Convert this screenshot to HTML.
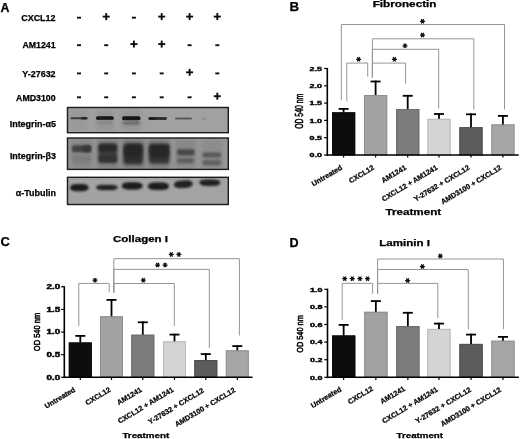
<!DOCTYPE html><html><head><meta charset="utf-8"><style>html,body{margin:0;padding:0;background:#fff;width:520px;height:439px;overflow:hidden}svg{display:block}text{stroke:#000;stroke-width:0.25px;paint-order:stroke}</style></head><body>
<svg width="520" height="439" viewBox="0 0 520 439" font-family='"Liberation Sans", sans-serif'>
<rect x="0" y="0" width="520" height="439" fill="#fff" />
<defs><filter id="sb" x="-50%" y="-50%" width="200%" height="200%"><feGaussianBlur stdDeviation="0.35"/></filter><filter id="gb" x="0" y="0" width="520" height="439" filterUnits="userSpaceOnUse"><feGaussianBlur stdDeviation="0.35"/></filter></defs>
<g filter="url(#gb)">
<text x="0.6" y="11.9" font-size="12.4" font-weight="bold" text-anchor="start" fill="#000" >A</text>
<text x="289.4" y="11.3" font-size="13.3" font-weight="bold" text-anchor="start" fill="#000" >B</text>
<text x="0.4" y="246.4" font-size="13.0" font-weight="bold" text-anchor="start" fill="#000" >C</text>
<text x="289.4" y="246.7" font-size="12.6" font-weight="bold" text-anchor="start" fill="#000" >D</text>
<text x="55.6" y="21.0" font-size="8.3" font-weight="bold" text-anchor="end" fill="#000" textLength="34.4" lengthAdjust="spacingAndGlyphs" >CXCL12</text>
<rect x="77.0" y="16.75" width="4.0" height="1.9" fill="#111" />
<rect x="102.7" y="15.649999999999999" width="7.0" height="1.9" fill="#111" />
<rect x="105.25" y="13.099999999999998" width="1.9" height="7.0" fill="#111" />
<rect x="131.9" y="16.75" width="4.0" height="1.9" fill="#111" />
<rect x="158.2" y="15.649999999999999" width="7.0" height="1.9" fill="#111" />
<rect x="160.75" y="13.099999999999998" width="1.9" height="7.0" fill="#111" />
<rect x="186.1" y="15.649999999999999" width="7.0" height="1.9" fill="#111" />
<rect x="188.65" y="13.099999999999998" width="1.9" height="7.0" fill="#111" />
<rect x="213.8" y="15.649999999999999" width="7.0" height="1.9" fill="#111" />
<rect x="216.35000000000002" y="13.099999999999998" width="1.9" height="7.0" fill="#111" />
<text x="55.6" y="48.4" font-size="8.3" font-weight="bold" text-anchor="end" fill="#000" textLength="33.2" lengthAdjust="spacingAndGlyphs" >AM1241</text>
<rect x="77.0" y="44.25" width="4.0" height="1.9" fill="#111" />
<rect x="104.2" y="44.25" width="4.0" height="1.9" fill="#111" />
<rect x="130.4" y="43.15" width="7.0" height="1.9" fill="#111" />
<rect x="132.95000000000002" y="40.6" width="1.9" height="7.0" fill="#111" />
<rect x="158.2" y="43.15" width="7.0" height="1.9" fill="#111" />
<rect x="160.75" y="40.6" width="1.9" height="7.0" fill="#111" />
<rect x="187.6" y="44.25" width="4.0" height="1.9" fill="#111" />
<rect x="215.3" y="44.25" width="4.0" height="1.9" fill="#111" />
<text x="55.6" y="76.8" font-size="8.3" font-weight="bold" text-anchor="end" fill="#000" textLength="33.3" lengthAdjust="spacingAndGlyphs" >Y-27632</text>
<rect x="77.0" y="72.45" width="4.0" height="1.9" fill="#111" />
<rect x="104.2" y="72.45" width="4.0" height="1.9" fill="#111" />
<rect x="131.9" y="72.45" width="4.0" height="1.9" fill="#111" />
<rect x="159.7" y="72.45" width="4.0" height="1.9" fill="#111" />
<rect x="186.1" y="71.35000000000001" width="7.0" height="1.9" fill="#111" />
<rect x="188.65" y="68.80000000000001" width="1.9" height="7.0" fill="#111" />
<rect x="215.3" y="72.45" width="4.0" height="1.9" fill="#111" />
<text x="55.6" y="100.9" font-size="8.3" font-weight="bold" text-anchor="end" fill="#000" textLength="39.5" lengthAdjust="spacingAndGlyphs" >AMD3100</text>
<rect x="77.0" y="96.35" width="4.0" height="1.9" fill="#111" />
<rect x="104.2" y="96.35" width="4.0" height="1.9" fill="#111" />
<rect x="131.9" y="96.35" width="4.0" height="1.9" fill="#111" />
<rect x="159.7" y="96.35" width="4.0" height="1.9" fill="#111" />
<rect x="187.6" y="96.35" width="4.0" height="1.9" fill="#111" />
<rect x="213.8" y="95.25" width="7.0" height="1.9" fill="#111" />
<rect x="216.35000000000002" y="92.7" width="1.9" height="7.0" fill="#111" />
<text x="56.0" y="126.6" font-size="8.3" font-weight="bold" text-anchor="end" fill="#000" textLength="46.3" lengthAdjust="spacingAndGlyphs" >Integrin-&#945;5</text>
<text x="56.0" y="158.9" font-size="8.3" font-weight="bold" text-anchor="end" fill="#000" textLength="46.1" lengthAdjust="spacingAndGlyphs" >Integrin-&#946;3</text>
<text x="56.0" y="195.6" font-size="8.3" font-weight="bold" text-anchor="end" fill="#000" textLength="40.3" lengthAdjust="spacingAndGlyphs" >&#945;-Tubulin</text>
<defs><filter id="f05" x="-30%" y="-200%" width="160%" height="500%"><feGaussianBlur stdDeviation="0.6"/></filter><filter id="f1" x="-30%" y="-200%" width="160%" height="500%"><feGaussianBlur stdDeviation="1.0"/></filter><filter id="f15" x="-30%" y="-100%" width="160%" height="300%"><feGaussianBlur stdDeviation="1.5"/></filter><filter id="f2" x="-30%" y="-100%" width="160%" height="300%"><feGaussianBlur stdDeviation="2.2"/></filter><filter id="f1b" x="-10%" y="-30%" width="120%" height="160%"><feGaussianBlur stdDeviation="0.8"/></filter><clipPath id="c1"><rect x="68" y="108" width="160" height="24.5"/></clipPath><clipPath id="c2"><rect x="68" y="138.5" width="160" height="30.5"/></clipPath><clipPath id="c3"><rect x="68" y="177.5" width="160" height="26.5"/></clipPath></defs>
<rect x="67.5" y="107.5" width="160.8" height="25.19999999999999" fill="#a1a1a1" />
<rect x="67.5" y="138.0" width="160.8" height="31.400000000000006" fill="#979797" />
<rect x="67.5" y="177.3" width="160.8" height="27.19999999999999" fill="#a3a3a3" />
<g clip-path="url(#c1)">
<rect x="69.5" y="110" width="18.50" height="21.00" rx="2" fill="#999999" filter="url(#f2)"/>
<rect x="95.5" y="110" width="19.00" height="21.00" rx="2" fill="#959595" filter="url(#f2)"/>
<rect x="121" y="110" width="20.00" height="21.00" rx="2" fill="#959595" filter="url(#f2)"/>
<rect x="70.5" y="117.3" width="16.50" height="2.00" rx="1.0" fill="#3c3c3c" filter="url(#f05)"/>
<rect x="81" y="117.0" width="6.50" height="2.60" rx="1.2999999999999972" fill="#262626" filter="url(#f05)"/>
<rect x="96" y="116.2" width="17.80" height="3.70" rx="1.8500000000000014" fill="#141414" filter="url(#f05)"/>
<rect x="97" y="120.5" width="16.00" height="4.00" rx="2.0" fill="#888888" filter="url(#f1)"/>
<rect x="122" y="116.2" width="18.50" height="4.10" rx="2.049999999999997" fill="#141414" filter="url(#f05)"/>
<rect x="122.5" y="121.6" width="17.50" height="2.80" rx="1.4000000000000057" fill="#666666" filter="url(#f1)"/>
<rect x="148.5" y="117.0" width="18.50" height="2.90" rx="1.4500000000000028" fill="#303030" filter="url(#f05)"/>
<rect x="148.5" y="116.9" width="7.50" height="3.10" rx="1.5499999999999972" fill="#222222" filter="url(#f05)"/>
<rect x="175" y="117.6" width="17.00" height="2.00" rx="1.0" fill="#5a5a5a" filter="url(#f05)"/>
<rect x="201.8" y="118.0" width="4.20" height="1.50" rx="0.75" fill="#8a8a8a" filter="url(#f05)"/>
</g>
<g clip-path="url(#c2)">
<rect x="70" y="139" width="23.00" height="30.00" rx="3" fill="#878787" filter="url(#f2)"/>
<rect x="97" y="139" width="22.00" height="30.00" rx="3" fill="#7e7e7e" filter="url(#f2)"/>
<rect x="122" y="139" width="23.00" height="30.00" rx="3" fill="#787878" filter="url(#f2)"/>
<rect x="148" y="139" width="22.00" height="30.00" rx="3" fill="#7a7a7a" filter="url(#f2)"/>
<rect x="175" y="139" width="21.00" height="30.00" rx="3" fill="#888888" filter="url(#f2)"/>
<rect x="201" y="139" width="22.00" height="30.00" rx="3" fill="#8c8c8c" filter="url(#f2)"/>
<rect x="72" y="145.3" width="19.00" height="6.90" rx="2" fill="#424242" filter="url(#f1)"/>
<rect x="83" y="145.5" width="8.00" height="6.50" rx="2" fill="#383838" filter="url(#f1)"/>
<rect x="72.5" y="155.5" width="18.00" height="6.50" rx="3" fill="#7a7a7a" filter="url(#f15)"/>
<rect x="98.5" y="143.5" width="18.50" height="19.50" rx="3" fill="#3a3a3a" filter="url(#f15)"/>
<rect x="99" y="144.5" width="17.50" height="7.00" rx="2" fill="#2c2c2c" filter="url(#f1)"/>
<rect x="99" y="156" width="17.50" height="6.00" rx="2" fill="#303030" filter="url(#f1)"/>
<rect x="123.6" y="143.5" width="19.20" height="20.80" rx="3" fill="#2e2e2e" filter="url(#f15)"/>
<rect x="124.5" y="145" width="17.50" height="12.00" rx="3" fill="#262626" filter="url(#f15)"/>
<rect x="149.0" y="143.7" width="20.40" height="19.80" rx="3" fill="#333333" filter="url(#f15)"/>
<rect x="149.6" y="145" width="19.20" height="12.00" rx="3" fill="#262626" filter="url(#f15)"/>
<rect x="177" y="149.3" width="17.50" height="6.30" rx="2" fill="#484848" filter="url(#f1)"/>
<rect x="177" y="158.0" width="17.00" height="5.20" rx="2" fill="#5e5e5e" filter="url(#f1)"/>
<rect x="202.5" y="152.5" width="18.50" height="5.00" rx="2" fill="#585858" filter="url(#f1)"/>
<rect x="202.5" y="160" width="18.50" height="5.50" rx="2" fill="#626262" filter="url(#f1)"/>
</g>
<g clip-path="url(#c3)" filter="url(#f1b)">
<rect x="70.00" y="183.90" width="18.60" height="7.30" rx="5.95" ry="3.65" fill="#1c1c1c" transform="rotate(0 79.30 187.55)"/>
<rect x="95.90" y="184.70" width="21.80" height="5.60" rx="6.98" ry="2.80" fill="#202020" transform="rotate(0 106.80 187.50)"/>
<rect x="121.70" y="182.30" width="21.00" height="7.20" rx="6.72" ry="3.60" fill="#1c1c1c" transform="rotate(0 132.20 185.90)"/>
<rect x="147.80" y="182.40" width="21.20" height="7.70" rx="6.78" ry="3.85" fill="#1c1c1c" transform="rotate(0 158.40 186.25)"/>
<rect x="173.80" y="180.60" width="19.00" height="7.30" rx="6.08" ry="3.65" fill="#202020" transform="rotate(-4 183.30 184.25)"/>
<rect x="199.30" y="179.40" width="21.00" height="6.60" rx="6.72" ry="3.30" fill="#222222" transform="rotate(0 209.80 182.70)"/>
</g>
<rect x="67.5" y="107.5" width="160.8" height="25.19999999999999" fill="none" stroke="#1a1a1a" stroke-width="1.4"/>
<rect x="67.5" y="138.0" width="160.8" height="31.400000000000006" fill="none" stroke="#1a1a1a" stroke-width="1.4"/>
<rect x="67.5" y="177.3" width="160.8" height="27.19999999999999" fill="none" stroke="#1a1a1a" stroke-width="1.4"/>
<rect x="332.0" y="112.3" width="23.2" height="42.7" fill="#0a0a0a" />
<rect x="332.50" y="112.80" width="22.20" height="42.20" fill="none" stroke="#080808" stroke-width="1"/>
<line x1="343.6" y1="112.3" x2="343.6" y2="108.0" stroke="#000" stroke-width="1.8"/>
<line x1="338.6" y1="108.9" x2="348.6" y2="108.9" stroke="#000" stroke-width="1.8"/>
<line x1="343.6" y1="155.0" x2="343.6" y2="157.6" stroke="#000" stroke-width="1.2"/>
<rect x="364.0" y="95.0" width="23.2" height="60.0" fill="#a2a2a2" />
<rect x="364.50" y="95.50" width="22.20" height="59.50" fill="none" stroke="#8e8e8e" stroke-width="1"/>
<line x1="375.6" y1="95.0" x2="375.6" y2="80.6" stroke="#000" stroke-width="1.8"/>
<line x1="370.6" y1="81.5" x2="380.6" y2="81.5" stroke="#000" stroke-width="1.8"/>
<line x1="375.6" y1="155.0" x2="375.6" y2="157.6" stroke="#000" stroke-width="1.2"/>
<rect x="396.1" y="109.0" width="23.2" height="46.0" fill="#7b7b7b" />
<rect x="396.60" y="109.50" width="22.20" height="45.50" fill="none" stroke="#6c6c6c" stroke-width="1"/>
<line x1="407.70000000000005" y1="109.0" x2="407.70000000000005" y2="94.9" stroke="#000" stroke-width="1.8"/>
<line x1="402.70000000000005" y1="95.80000000000001" x2="412.70000000000005" y2="95.80000000000001" stroke="#000" stroke-width="1.8"/>
<line x1="407.70000000000005" y1="155.0" x2="407.70000000000005" y2="157.6" stroke="#000" stroke-width="1.2"/>
<rect x="427.4" y="118.8" width="23.2" height="36.2" fill="#d4d4d4" />
<rect x="427.90" y="119.30" width="22.20" height="35.70" fill="none" stroke="#bababa" stroke-width="1"/>
<line x1="439.0" y1="118.8" x2="439.0" y2="113.1" stroke="#000" stroke-width="1.8"/>
<line x1="434.0" y1="114.0" x2="444.0" y2="114.0" stroke="#000" stroke-width="1.8"/>
<line x1="439.0" y1="155.0" x2="439.0" y2="157.6" stroke="#000" stroke-width="1.2"/>
<rect x="459.4" y="127.2" width="23.2" height="27.799999999999997" fill="#5c5c5c" />
<rect x="459.90" y="127.70" width="22.20" height="27.30" fill="none" stroke="#505050" stroke-width="1"/>
<line x1="471.0" y1="127.2" x2="471.0" y2="113.4" stroke="#000" stroke-width="1.8"/>
<line x1="466.0" y1="114.30000000000001" x2="476.0" y2="114.30000000000001" stroke="#000" stroke-width="1.8"/>
<line x1="471.0" y1="155.0" x2="471.0" y2="157.6" stroke="#000" stroke-width="1.2"/>
<rect x="491.3" y="124.4" width="23.2" height="30.599999999999994" fill="#a6a6a6" />
<rect x="491.80" y="124.90" width="22.20" height="30.10" fill="none" stroke="#929292" stroke-width="1"/>
<line x1="502.90000000000003" y1="124.4" x2="502.90000000000003" y2="115.0" stroke="#000" stroke-width="1.8"/>
<line x1="497.90000000000003" y1="115.9" x2="507.90000000000003" y2="115.9" stroke="#000" stroke-width="1.8"/>
<line x1="502.90000000000003" y1="155.0" x2="502.90000000000003" y2="157.6" stroke="#000" stroke-width="1.2"/>
<line x1="327.3" y1="67.9" x2="327.3" y2="155.8" stroke="#000" stroke-width="1.6"/>
<line x1="326.5" y1="155.0" x2="518.7" y2="155.0" stroke="#000" stroke-width="1.6"/>
<line x1="324.1" y1="155.0" x2="327.3" y2="155.0" stroke="#000" stroke-width="1.2"/>
<text x="322.0" y="157.2" font-size="6.2" font-weight="bold" text-anchor="end" fill="#000" textLength="12.4" lengthAdjust="spacingAndGlyphs" style="stroke-width:0.4px">0.0</text>
<line x1="324.1" y1="137.7" x2="327.3" y2="137.7" stroke="#000" stroke-width="1.2"/>
<text x="322.0" y="139.89999999999998" font-size="6.2" font-weight="bold" text-anchor="end" fill="#000" textLength="12.4" lengthAdjust="spacingAndGlyphs" style="stroke-width:0.4px">0.5</text>
<line x1="324.1" y1="120.4" x2="327.3" y2="120.4" stroke="#000" stroke-width="1.2"/>
<text x="322.0" y="122.60000000000001" font-size="6.2" font-weight="bold" text-anchor="end" fill="#000" textLength="12.4" lengthAdjust="spacingAndGlyphs" style="stroke-width:0.4px">1.0</text>
<line x1="324.1" y1="103.1" x2="327.3" y2="103.1" stroke="#000" stroke-width="1.2"/>
<text x="322.0" y="105.3" font-size="6.2" font-weight="bold" text-anchor="end" fill="#000" textLength="12.4" lengthAdjust="spacingAndGlyphs" style="stroke-width:0.4px">1.5</text>
<line x1="324.1" y1="85.8" x2="327.3" y2="85.8" stroke="#000" stroke-width="1.2"/>
<text x="322.0" y="88.0" font-size="6.2" font-weight="bold" text-anchor="end" fill="#000" textLength="12.4" lengthAdjust="spacingAndGlyphs" style="stroke-width:0.4px">2.0</text>
<line x1="324.1" y1="68.5" x2="327.3" y2="68.5" stroke="#000" stroke-width="1.2"/>
<text x="322.0" y="70.7" font-size="6.2" font-weight="bold" text-anchor="end" fill="#000" textLength="12.4" lengthAdjust="spacingAndGlyphs" style="stroke-width:0.4px">2.5</text>
<text transform="translate(303.3,111.3) rotate(-90)" font-size="10.0" font-weight="normal" text-anchor="middle" style="stroke-width:0.55px" textLength="35.0" lengthAdjust="spacingAndGlyphs">OD 540 nm</text>
<text transform="translate(342.80,169.00) scale(1,1) rotate(-31)" font-size="7.3" font-weight="bold" text-anchor="end">Untreated</text>
<text transform="translate(374.80,169.00) scale(1,1) rotate(-31)" font-size="7.3" font-weight="bold" text-anchor="end">CXCL12</text>
<text transform="translate(406.90,169.00) scale(1,1) rotate(-31)" font-size="7.3" font-weight="bold" text-anchor="end">AM1241</text>
<text transform="translate(438.20,169.00) scale(1,1) rotate(-31)" font-size="7.3" font-weight="bold" text-anchor="end">CXCL12 + AM1241</text>
<text transform="translate(470.20,169.00) scale(1,1) rotate(-31)" font-size="7.3" font-weight="bold" text-anchor="end">Y-27632 + CXCL12</text>
<text transform="translate(502.10,169.00) scale(1,1) rotate(-31)" font-size="7.3" font-weight="bold" text-anchor="end">AMD3100 + CXCL12</text>
<text x="385.5" y="215.2" font-size="8.6" font-weight="bold" text-anchor="start" fill="#000" textLength="55.7" lengthAdjust="spacingAndGlyphs" >Treatment</text>
<text x="372.7" y="6.5" font-size="8.4" font-weight="bold" text-anchor="start" fill="#000" textLength="63.8" lengthAdjust="spacingAndGlyphs" >Fibronectin</text>
<path d="M346.8,101.4V63.1H367.7V76.6" stroke="#959595" stroke-width="1" fill="none"/>
<path d="M356.10,59.30L361.10,59.30M357.35,57.13L359.85,61.47M359.85,57.13L357.35,61.47" stroke="#111" stroke-width="1.25" fill="none" filter="url(#sb)"/>
<path d="M372.4,77.5V63.1H405.6V83.6" stroke="#959595" stroke-width="1" fill="none"/>
<path d="M391.90,59.30L396.90,59.30M393.15,57.13L395.65,61.47M395.65,57.13L393.15,61.47" stroke="#111" stroke-width="1.25" fill="none" filter="url(#sb)"/>
<path d="M372.4,77.5V49.3H438.7V108.6" stroke="#959595" stroke-width="1" fill="none"/>
<path d="M402.50,45.80L407.50,45.80M403.75,43.63L406.25,47.97M406.25,43.63L403.75,47.97" stroke="#111" stroke-width="1.25" fill="none" filter="url(#sb)"/>
<path d="M372.4,77.5V38.8H473.8V109.5" stroke="#959595" stroke-width="1" fill="none"/>
<path d="M420.00,35.00L425.00,35.00M421.25,32.83L423.75,37.17M423.75,32.83L421.25,37.17" stroke="#111" stroke-width="1.25" fill="none" filter="url(#sb)"/>
<path d="M341.3,100.3V24.5H504.5V109.5" stroke="#959595" stroke-width="1" fill="none"/>
<path d="M420.00,21.30L425.00,21.30M421.25,19.13L423.75,23.47M423.75,19.13L421.25,23.47" stroke="#111" stroke-width="1.25" fill="none" filter="url(#sb)"/>
<rect x="68.8" y="342.5" width="23.0" height="34.80000000000001" fill="#0a0a0a" />
<rect x="69.30" y="343.00" width="22.00" height="34.30" fill="none" stroke="#080808" stroke-width="1"/>
<line x1="80.3" y1="342.5" x2="80.3" y2="335.0" stroke="#000" stroke-width="1.8"/>
<line x1="75.3" y1="335.9" x2="85.3" y2="335.9" stroke="#000" stroke-width="1.8"/>
<line x1="80.3" y1="377.3" x2="80.3" y2="379.90000000000003" stroke="#000" stroke-width="1.2"/>
<rect x="100.0" y="316.3" width="23.0" height="61.0" fill="#a2a2a2" />
<rect x="100.50" y="316.80" width="22.00" height="60.50" fill="none" stroke="#8e8e8e" stroke-width="1"/>
<line x1="111.5" y1="316.3" x2="111.5" y2="299.0" stroke="#000" stroke-width="1.8"/>
<line x1="106.5" y1="299.9" x2="116.5" y2="299.9" stroke="#000" stroke-width="1.8"/>
<line x1="111.5" y1="377.3" x2="111.5" y2="379.90000000000003" stroke="#000" stroke-width="1.2"/>
<rect x="131.3" y="334.7" width="23.0" height="42.60000000000002" fill="#7b7b7b" />
<rect x="131.80" y="335.20" width="22.00" height="42.10" fill="none" stroke="#6c6c6c" stroke-width="1"/>
<line x1="142.8" y1="334.7" x2="142.8" y2="321.4" stroke="#000" stroke-width="1.8"/>
<line x1="137.8" y1="322.29999999999995" x2="147.8" y2="322.29999999999995" stroke="#000" stroke-width="1.8"/>
<line x1="142.8" y1="377.3" x2="142.8" y2="379.90000000000003" stroke="#000" stroke-width="1.2"/>
<rect x="163.0" y="341.3" width="23.0" height="36.0" fill="#d4d4d4" />
<rect x="163.50" y="341.80" width="22.00" height="35.50" fill="none" stroke="#bababa" stroke-width="1"/>
<line x1="174.5" y1="341.3" x2="174.5" y2="333.7" stroke="#000" stroke-width="1.8"/>
<line x1="169.5" y1="334.59999999999997" x2="179.5" y2="334.59999999999997" stroke="#000" stroke-width="1.8"/>
<line x1="174.5" y1="377.3" x2="174.5" y2="379.90000000000003" stroke="#000" stroke-width="1.2"/>
<rect x="194.3" y="360.0" width="23.0" height="17.30000000000001" fill="#5c5c5c" />
<rect x="194.80" y="360.50" width="22.00" height="16.80" fill="none" stroke="#505050" stroke-width="1"/>
<line x1="205.8" y1="360.0" x2="205.8" y2="353.2" stroke="#000" stroke-width="1.8"/>
<line x1="200.8" y1="354.09999999999997" x2="210.8" y2="354.09999999999997" stroke="#000" stroke-width="1.8"/>
<line x1="205.8" y1="377.3" x2="205.8" y2="379.90000000000003" stroke="#000" stroke-width="1.2"/>
<rect x="225.8" y="350.3" width="23.0" height="27.0" fill="#a6a6a6" />
<rect x="226.30" y="350.80" width="22.00" height="26.50" fill="none" stroke="#929292" stroke-width="1"/>
<line x1="237.3" y1="350.3" x2="237.3" y2="345.2" stroke="#000" stroke-width="1.8"/>
<line x1="232.3" y1="346.09999999999997" x2="242.3" y2="346.09999999999997" stroke="#000" stroke-width="1.8"/>
<line x1="237.3" y1="377.3" x2="237.3" y2="379.90000000000003" stroke="#000" stroke-width="1.2"/>
<line x1="64.3" y1="286.2" x2="64.3" y2="378.1" stroke="#000" stroke-width="1.6"/>
<line x1="63.5" y1="377.3" x2="252.5" y2="377.3" stroke="#000" stroke-width="1.6"/>
<line x1="61.099999999999994" y1="377.3" x2="64.3" y2="377.3" stroke="#000" stroke-width="1.2"/>
<text x="60.2" y="379.5" font-size="6.4" font-weight="bold" text-anchor="end" fill="#000" textLength="13.6" lengthAdjust="spacingAndGlyphs" style="stroke-width:0.4px">0.0</text>
<line x1="61.099999999999994" y1="354.675" x2="64.3" y2="354.675" stroke="#000" stroke-width="1.2"/>
<text x="60.2" y="356.875" font-size="6.4" font-weight="bold" text-anchor="end" fill="#000" textLength="13.6" lengthAdjust="spacingAndGlyphs" style="stroke-width:0.4px">0.5</text>
<line x1="61.099999999999994" y1="332.05" x2="64.3" y2="332.05" stroke="#000" stroke-width="1.2"/>
<text x="60.2" y="334.25" font-size="6.4" font-weight="bold" text-anchor="end" fill="#000" textLength="13.6" lengthAdjust="spacingAndGlyphs" style="stroke-width:0.4px">1.0</text>
<line x1="61.099999999999994" y1="309.425" x2="64.3" y2="309.425" stroke="#000" stroke-width="1.2"/>
<text x="60.2" y="311.625" font-size="6.4" font-weight="bold" text-anchor="end" fill="#000" textLength="13.6" lengthAdjust="spacingAndGlyphs" style="stroke-width:0.4px">1.5</text>
<line x1="61.099999999999994" y1="286.8" x2="64.3" y2="286.8" stroke="#000" stroke-width="1.2"/>
<text x="60.2" y="289.0" font-size="6.4" font-weight="bold" text-anchor="end" fill="#000" textLength="13.6" lengthAdjust="spacingAndGlyphs" style="stroke-width:0.4px">2.0</text>
<text transform="translate(40.1,332.0) rotate(-90)" font-size="9.6" font-weight="normal" text-anchor="middle" style="stroke-width:0.55px" textLength="38.3" lengthAdjust="spacingAndGlyphs">OD 540 nm</text>
<text transform="translate(75.80,391.10) scale(1,1) rotate(-31)" font-size="7.3" font-weight="bold" text-anchor="end">Untreated</text>
<text transform="translate(111.20,391.10) scale(1,1) rotate(-31)" font-size="7.3" font-weight="bold" text-anchor="end">CXCL12</text>
<text transform="translate(142.50,391.10) scale(1,1) rotate(-31)" font-size="7.3" font-weight="bold" text-anchor="end">AM1241</text>
<text transform="translate(174.20,391.10) scale(1,1) rotate(-31)" font-size="7.3" font-weight="bold" text-anchor="end">CXCL12 + AM1241</text>
<text transform="translate(204.50,391.90) scale(1,1) rotate(-31)" font-size="7.3" font-weight="bold" text-anchor="end">Y-27632 + CXCL12</text>
<text transform="translate(236.00,391.50) scale(1,1) rotate(-31)" font-size="7.3" font-weight="bold" text-anchor="end">AMD3100 + CXCL12</text>
<text x="122.4" y="438.3" font-size="7.4" font-weight="bold" text-anchor="start" fill="#000" textLength="46.8" lengthAdjust="spacingAndGlyphs" >Treatment</text>
<text x="113.0" y="241.9" font-size="8.4" font-weight="bold" text-anchor="start" fill="#000" textLength="55.0" lengthAdjust="spacingAndGlyphs" >Collagen I</text>
<path d="M78.8,326.0V283.4H109.2V292.5" stroke="#959595" stroke-width="1" fill="none"/>
<path d="M92.50,280.20L97.50,280.20M93.75,278.03L96.25,282.37M96.25,278.03L93.75,282.37" stroke="#111" stroke-width="1.25" fill="none" filter="url(#sb)"/>
<path d="M113.8,292.5V283.5H174.3V325.8" stroke="#959595" stroke-width="1" fill="none"/>
<path d="M140.80,280.20L145.80,280.20M142.05,278.03L144.55,282.37M144.55,278.03L142.05,282.37" stroke="#111" stroke-width="1.25" fill="none" filter="url(#sb)"/>
<path d="M113.8,292.5V269.4H209.3V348.0" stroke="#959595" stroke-width="1" fill="none"/>
<path d="M155.10,265.00L160.10,265.00M156.35,262.83L158.85,267.17M158.85,262.83L156.35,267.17" stroke="#111" stroke-width="1.25" fill="none" filter="url(#sb)"/>
<path d="M162.60,265.00L167.60,265.00M163.85,262.83L166.35,267.17M166.35,262.83L163.85,267.17" stroke="#111" stroke-width="1.25" fill="none" filter="url(#sb)"/>
<path d="M113.8,292.5V258.7H239.4V335.5" stroke="#959595" stroke-width="1" fill="none"/>
<path d="M168.80,254.40L173.80,254.40M170.05,252.23L172.55,256.57M172.55,252.23L170.05,256.57" stroke="#111" stroke-width="1.25" fill="none" filter="url(#sb)"/>
<path d="M176.30,254.40L181.30,254.40M177.55,252.23L180.05,256.57M180.05,252.23L177.55,256.57" stroke="#111" stroke-width="1.25" fill="none" filter="url(#sb)"/>
<rect x="332.0" y="335.5" width="23.3" height="41.80000000000001" fill="#0a0a0a" />
<rect x="332.50" y="336.00" width="22.30" height="41.30" fill="none" stroke="#080808" stroke-width="1"/>
<line x1="343.65" y1="335.5" x2="343.65" y2="324.0" stroke="#000" stroke-width="1.8"/>
<line x1="338.65" y1="324.9" x2="348.65" y2="324.9" stroke="#000" stroke-width="1.8"/>
<line x1="343.65" y1="377.3" x2="343.65" y2="379.90000000000003" stroke="#000" stroke-width="1.2"/>
<rect x="364.2" y="311.8" width="23.3" height="65.5" fill="#a2a2a2" />
<rect x="364.70" y="312.30" width="22.30" height="65.00" fill="none" stroke="#8e8e8e" stroke-width="1"/>
<line x1="375.84999999999997" y1="311.8" x2="375.84999999999997" y2="300.2" stroke="#000" stroke-width="1.8"/>
<line x1="370.84999999999997" y1="301.09999999999997" x2="380.84999999999997" y2="301.09999999999997" stroke="#000" stroke-width="1.8"/>
<line x1="375.84999999999997" y1="377.3" x2="375.84999999999997" y2="379.90000000000003" stroke="#000" stroke-width="1.2"/>
<rect x="396.2" y="326.1" width="23.3" height="51.19999999999999" fill="#7b7b7b" />
<rect x="396.70" y="326.60" width="22.30" height="50.70" fill="none" stroke="#6c6c6c" stroke-width="1"/>
<line x1="407.84999999999997" y1="326.1" x2="407.84999999999997" y2="311.9" stroke="#000" stroke-width="1.8"/>
<line x1="402.84999999999997" y1="312.79999999999995" x2="412.84999999999997" y2="312.79999999999995" stroke="#000" stroke-width="1.8"/>
<line x1="407.84999999999997" y1="377.3" x2="407.84999999999997" y2="379.90000000000003" stroke="#000" stroke-width="1.2"/>
<rect x="427.3" y="328.9" width="23.3" height="48.400000000000034" fill="#d4d4d4" />
<rect x="427.80" y="329.40" width="22.30" height="47.90" fill="none" stroke="#bababa" stroke-width="1"/>
<line x1="438.95" y1="328.9" x2="438.95" y2="322.7" stroke="#000" stroke-width="1.8"/>
<line x1="433.95" y1="323.59999999999997" x2="443.95" y2="323.59999999999997" stroke="#000" stroke-width="1.8"/>
<line x1="438.95" y1="377.3" x2="438.95" y2="379.90000000000003" stroke="#000" stroke-width="1.2"/>
<rect x="459.4" y="343.9" width="23.3" height="33.400000000000034" fill="#5c5c5c" />
<rect x="459.90" y="344.40" width="22.30" height="32.90" fill="none" stroke="#505050" stroke-width="1"/>
<line x1="471.04999999999995" y1="343.9" x2="471.04999999999995" y2="333.7" stroke="#000" stroke-width="1.8"/>
<line x1="466.04999999999995" y1="334.59999999999997" x2="476.04999999999995" y2="334.59999999999997" stroke="#000" stroke-width="1.8"/>
<line x1="471.04999999999995" y1="377.3" x2="471.04999999999995" y2="379.90000000000003" stroke="#000" stroke-width="1.2"/>
<rect x="491.3" y="340.7" width="23.3" height="36.60000000000002" fill="#a6a6a6" />
<rect x="491.80" y="341.20" width="22.30" height="36.10" fill="none" stroke="#929292" stroke-width="1"/>
<line x1="502.95" y1="340.7" x2="502.95" y2="336.0" stroke="#000" stroke-width="1.8"/>
<line x1="497.95" y1="336.9" x2="507.95" y2="336.9" stroke="#000" stroke-width="1.8"/>
<line x1="502.95" y1="377.3" x2="502.95" y2="379.90000000000003" stroke="#000" stroke-width="1.2"/>
<line x1="327.5" y1="288.7" x2="327.5" y2="378.1" stroke="#000" stroke-width="1.6"/>
<line x1="326.7" y1="377.3" x2="518.9" y2="377.3" stroke="#000" stroke-width="1.6"/>
<line x1="324.3" y1="377.3" x2="327.5" y2="377.3" stroke="#000" stroke-width="1.2"/>
<text x="322.6" y="379.5" font-size="6.2" font-weight="bold" text-anchor="end" fill="#000" textLength="12.5" lengthAdjust="spacingAndGlyphs" style="stroke-width:0.4px">0.0</text>
<line x1="324.3" y1="359.7" x2="327.5" y2="359.7" stroke="#000" stroke-width="1.2"/>
<text x="322.6" y="361.9" font-size="6.2" font-weight="bold" text-anchor="end" fill="#000" textLength="12.5" lengthAdjust="spacingAndGlyphs" style="stroke-width:0.4px">0.2</text>
<line x1="324.3" y1="342.1" x2="327.5" y2="342.1" stroke="#000" stroke-width="1.2"/>
<text x="322.6" y="344.3" font-size="6.2" font-weight="bold" text-anchor="end" fill="#000" textLength="12.5" lengthAdjust="spacingAndGlyphs" style="stroke-width:0.4px">0.4</text>
<line x1="324.3" y1="324.5" x2="327.5" y2="324.5" stroke="#000" stroke-width="1.2"/>
<text x="322.6" y="326.7" font-size="6.2" font-weight="bold" text-anchor="end" fill="#000" textLength="12.5" lengthAdjust="spacingAndGlyphs" style="stroke-width:0.4px">0.6</text>
<line x1="324.3" y1="306.9" x2="327.5" y2="306.9" stroke="#000" stroke-width="1.2"/>
<text x="322.6" y="309.09999999999997" font-size="6.2" font-weight="bold" text-anchor="end" fill="#000" textLength="12.5" lengthAdjust="spacingAndGlyphs" style="stroke-width:0.4px">0.8</text>
<line x1="324.3" y1="289.3" x2="327.5" y2="289.3" stroke="#000" stroke-width="1.2"/>
<text x="322.6" y="291.5" font-size="6.2" font-weight="bold" text-anchor="end" fill="#000" textLength="12.5" lengthAdjust="spacingAndGlyphs" style="stroke-width:0.4px">1.0</text>
<text transform="translate(303.2,334.0) rotate(-90)" font-size="9.5" font-weight="normal" text-anchor="middle" style="stroke-width:0.55px" textLength="37.7" lengthAdjust="spacingAndGlyphs">OD 540 nm</text>
<text transform="translate(341.95,390.60) scale(1,1) rotate(-31)" font-size="7.3" font-weight="bold" text-anchor="end">Untreated</text>
<text transform="translate(373.65,390.10) scale(1,1) rotate(-31)" font-size="7.3" font-weight="bold" text-anchor="end">CXCL12</text>
<text transform="translate(405.65,390.10) scale(1,1) rotate(-31)" font-size="7.3" font-weight="bold" text-anchor="end">AM1241</text>
<text transform="translate(438.55,390.90) scale(1,1) rotate(-31)" font-size="7.3" font-weight="bold" text-anchor="end">CXCL12 + AM1241</text>
<text transform="translate(471.65,391.10) scale(1,1) rotate(-31)" font-size="7.3" font-weight="bold" text-anchor="end">Y-27632 + CXCL12</text>
<text transform="translate(501.75,391.10) scale(1,1) rotate(-31)" font-size="7.3" font-weight="bold" text-anchor="end">AMD3100 + CXCL12</text>
<text x="396.6" y="438.2" font-size="7.4" font-weight="bold" text-anchor="start" fill="#000" textLength="46.4" lengthAdjust="spacingAndGlyphs" >Treatment</text>
<text x="379.3" y="245.7" font-size="8.4" font-weight="bold" text-anchor="start" fill="#000" textLength="50.7" lengthAdjust="spacingAndGlyphs" >Laminin I</text>
<path d="M342.2,320.0V283.3H372.6V293.8" stroke="#959595" stroke-width="1" fill="none"/>
<path d="M342.20,278.70L347.20,278.70M343.45,276.53L345.95,280.87M345.95,276.53L343.45,280.87" stroke="#111" stroke-width="1.25" fill="none" filter="url(#sb)"/>
<path d="M349.80,278.70L354.80,278.70M351.05,276.53L353.55,280.87M353.55,276.53L351.05,280.87" stroke="#111" stroke-width="1.25" fill="none" filter="url(#sb)"/>
<path d="M357.40,278.70L362.40,278.70M358.65,276.53L361.15,280.87M361.15,276.53L358.65,280.87" stroke="#111" stroke-width="1.25" fill="none" filter="url(#sb)"/>
<path d="M365.00,278.70L370.00,278.70M366.25,276.53L368.75,280.87M368.75,276.53L366.25,280.87" stroke="#111" stroke-width="1.25" fill="none" filter="url(#sb)"/>
<path d="M377.6,293.8V283.4H437.8V318.0" stroke="#959595" stroke-width="1" fill="none"/>
<path d="M405.10,280.60L410.10,280.60M406.35,278.43L408.85,282.77M408.85,278.43L406.35,282.77" stroke="#111" stroke-width="1.25" fill="none" filter="url(#sb)"/>
<path d="M377.6,293.8V269.5H468.3V329.2" stroke="#959595" stroke-width="1" fill="none"/>
<path d="M419.90,266.50L424.90,266.50M421.15,264.33L423.65,268.67M423.65,264.33L421.15,268.67" stroke="#111" stroke-width="1.25" fill="none" filter="url(#sb)"/>
<path d="M377.6,293.8V259.0H503.4V329.2" stroke="#959595" stroke-width="1" fill="none"/>
<path d="M437.80,256.00L442.80,256.00M439.05,253.83L441.55,258.17M441.55,253.83L439.05,258.17" stroke="#111" stroke-width="1.25" fill="none" filter="url(#sb)"/>
</g>
</svg></body></html>
